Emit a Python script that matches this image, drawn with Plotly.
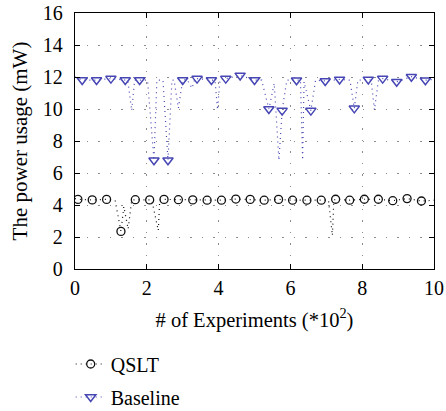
import plotly.graph_objects as go

# ---- data ----
qslt_x = [0.0, 0.08, 0.48, 0.88, 1.12, 1.28, 1.36, 1.48, 1.58, 1.68, 2.08, 2.14, 2.32, 2.36,
          2.48, 2.88, 3.28, 3.68, 4.08, 4.48, 4.88, 5.27, 5.67, 6.06, 6.46, 6.86, 7.06, 7.17,
          7.21, 7.26, 7.65, 8.06, 8.45, 8.85, 9.25, 9.65, 10.0]
qslt_y = [4.4, 4.35, 4.32, 4.35, 4.25, 2.35, 3.9, 2.5, 4.3, 4.33, 4.32, 4.3, 2.4, 4.3,
          4.35, 4.33, 4.32, 4.30, 4.30, 4.37, 4.35, 4.3, 4.35, 4.3, 4.3, 4.3, 4.3, 2.1,
          4.3, 4.36, 4.3, 4.36, 4.36, 4.27, 4.4, 4.25, 4.3]

qslt_mx = [0.08, 0.48, 0.88, 1.28, 1.68, 2.08, 2.48, 2.88, 3.28, 3.68, 4.08, 4.48, 4.88,
           5.27, 5.67, 6.06, 6.46, 6.86, 7.26, 7.65, 8.06, 8.45, 8.85, 9.25, 9.65]
qslt_my = [4.35, 4.32, 4.35, 2.35, 4.33, 4.32, 4.35, 4.33, 4.32, 4.30, 4.30, 4.37, 4.35,
           4.3, 4.35, 4.3, 4.3, 4.3, 4.36, 4.3, 4.36, 4.36, 4.27, 4.4, 4.25]

base_x = [0.0, 0.2, 0.6, 1.0, 1.4, 1.47, 1.58, 1.66, 1.8, 2.02, 2.2, 2.28, 2.45, 2.59, 2.7,
          2.76, 2.88, 2.98, 3.0, 3.12, 3.26, 3.34, 3.4, 3.8, 3.9, 3.97, 4.04, 4.2, 4.6, 5.0,
          5.2, 5.4, 5.55, 5.68, 5.77, 5.9, 6.17, 6.28, 6.34, 6.38, 6.57, 6.7, 6.97, 7.37,
          7.66, 7.78, 7.88, 8.17, 8.25, 8.34, 8.45, 8.57, 8.96, 9.37, 9.76, 10.0]
base_y = [12.0, 11.81, 11.81, 11.9, 11.81, 11.8, 9.9, 11.8, 11.81, 11.8, 6.8, 11.8, 11.8, 6.8, 11.8,
          11.8, 10.05, 11.8, 11.81, 11.85, 11.3, 11.9, 11.9, 11.81, 11.8, 9.95, 11.85, 11.9, 12.1, 11.81,
          11.8, 10.0, 11.6, 6.8, 9.9, 11.8, 11.8, 11.8, 6.8, 11.7, 9.9, 11.8, 11.75, 11.85,
          11.8, 10.04, 11.8, 11.85, 11.8, 9.95, 11.75, 11.9, 11.7, 12.02, 11.8, 11.85]

base_mx = [0.2, 0.6, 1.0, 1.4, 1.8, 2.2, 2.59, 3.0, 3.4, 3.8, 4.2, 4.6, 5.0,
           5.4, 5.77, 6.17, 6.57, 6.97, 7.37, 7.78, 8.17, 8.57, 8.96, 9.37, 9.76]
base_my = [11.81, 11.81, 11.9, 11.81, 11.81, 6.8, 6.8, 11.81, 11.9, 11.81, 11.9, 12.1, 11.81,
           10.0, 9.9, 11.8, 9.9, 11.75, 11.85, 10.04, 11.85, 11.9, 11.7, 12.02, 11.8]

x_ticks = [0, 2, 4, 6, 8, 10]
y_ticks = [0, 2, 4, 6, 8, 10, 12, 14, 16]

series_names = ["QSLT", "Baseline"]

# ---- styles ----
BLACK = "#111111"
BLUE = "#4646b4"
DOT = "1px,4px"
FONT = "Liberation Serif, Times New Roman, serif"

fig = go.Figure()

# dotted data lines
fig.add_trace(go.Scatter(x=qslt_x, y=qslt_y, mode="lines", showlegend=False,
                         line=dict(color=BLACK, width=1.2, dash=DOT)))
fig.add_trace(go.Scatter(x=base_x, y=base_y, mode="lines", showlegend=False,
                         line=dict(color=BLUE, width=1.2, dash=DOT)))
# markers
fig.add_trace(go.Scatter(x=qslt_mx, y=qslt_my, mode="markers", showlegend=False,
                         marker=dict(symbol="circle-open", size=8, color=BLACK,
                                     line=dict(width=1.3, color=BLACK))))
fig.add_trace(go.Scatter(x=base_mx, y=base_my, mode="markers", showlegend=False,
                         marker=dict(symbol="triangle-down-open", size=9, color=BLUE,
                                     line=dict(width=1.5, color=BLUE))))

# legend entries
fig.add_trace(go.Scatter(x=[None], y=[None], mode="lines+markers", name=series_names[0],
                         legend="legend",
                         line=dict(color=BLACK, width=1.2, dash=DOT),
                         marker=dict(symbol="circle-open", size=8, color=BLACK,
                                     line=dict(width=1.3, color=BLACK))))
fig.add_trace(go.Scatter(x=[None], y=[None], mode="lines+markers", name=series_names[1],
                         legend="legend2",
                         line=dict(color=BLUE, width=1.2, dash=DOT),
                         marker=dict(symbol="triangle-down-open", size=9, color=BLUE,
                                     line=dict(width=1.5, color=BLUE))))

axis_common = dict(
    showline=True, linecolor="black", linewidth=1.3, mirror="ticks",
    ticks="inside", ticklen=5, tickwidth=1.2, tickcolor="black",
    showgrid=True, gridcolor="#8c8c8c", gridwidth=1, griddash="1.5px,10px",
    zeroline=False, automargin=False, ticklabeloverflow="allow",
    tickfont=dict(family=FONT, size=20, color="black"),
)

fig.update_xaxes(range=[0, 10], tickvals=x_ticks, ticktext=[str(v) for v in x_ticks],
                 title=dict(text="# of Experiments (*10<sup>2</sup>)",
                            font=dict(family=FONT, size=20.5, color="black"), standoff=14),
                 ticklabelstandoff=1, **axis_common)
fig.update_yaxes(range=[0, 16], tickvals=y_ticks, ticktext=[str(v) for v in y_ticks],
                 title=dict(text="The power usage (mW)",
                            font=dict(family=FONT, size=21, color="black"), standoff=9),
                 ticklabelstandoff=7, **axis_common)

legend_common = dict(xanchor="left", yanchor="middle", bgcolor="rgba(0,0,0,0)",
                     borderwidth=0, font=dict(family=FONT, size=20, color="black"),
                     itemwidth=30)
fig.update_layout(
    width=446, height=411,
    font=dict(family=FONT, size=20, color="black"),
    margin=dict(l=75, r=12, t=13, b=142, autoexpand=False),
    paper_bgcolor="white", plot_bgcolor="white",
    legend=dict(x=-0.012, y=-0.371, **legend_common),
    legend2=dict(x=-0.012, y=-0.50, **legend_common),
)

# remove the browser's default body margin so the figure sits at the page origin
fig.write_html("out.html", config={"displayModeBar": False},
               post_script="document.body.style.margin='0px';")
